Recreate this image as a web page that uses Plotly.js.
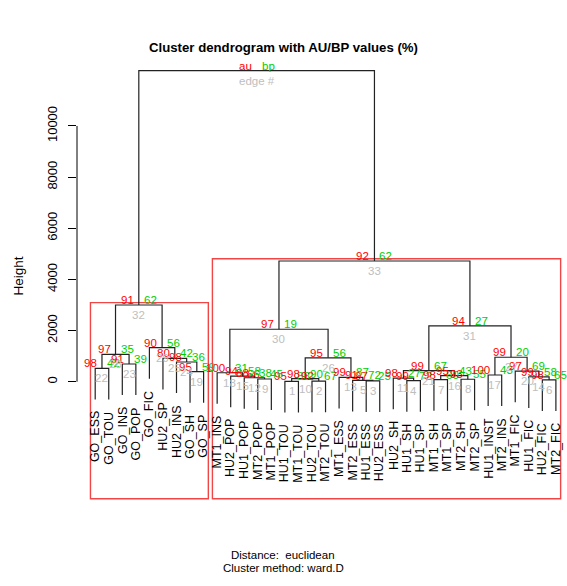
<!DOCTYPE html>
<html><head><meta charset="utf-8">
<script src="https://cdn.plot.ly/plotly-3.0.1.min.js"></script>
<style>body{margin:0;padding:0;background:#fff}#chart{width:567px;height:586px}</style>
</head><body><div id="chart"></div>
<script>
// ---- data (hclust-style merge table, leaves in display order, 1-based; negative = leaf) ----
const leafLabels = ["GO_ESS","GO_TOU","GO_INS","GO_POP","GO_FIC","HU2_SP","HU2_INS","GO_SH","GO_SP",
  "MT1_INS","HU2_POP","HU1_POP","MT2_POP","MT1_POP","HU1_TOU","MT1_TOU","HU2_TOU","MT2_TOU",
  "MT1_ESS","MT2_ESS","HU1_ESS","HU2_ESS","HU2_SH","HU1_SH","HU1_SP","MT1_SH","MT1_SP","MT2_SH","MT2_SP",
  "HU1_INST","MT2_INS","MT1_FIC","HU1_FIC","HU2_FIC","MT2_FIC"];
const mergeLeft  = [-15,-17,-21,-24,-20,-34,-26,-28,-13, 1,-23,-12,-19,-33,-11, 7,-30,-10, -8,-32,11, -1, -3, -7, -6,10,17,22, -5,18,21,28,30,32];
const mergeRight = [-16,-18,-22,-25,  3,-35,-27,-29,-14, 2,  4,  9,  5,  6, 12, 8,-31, 15, -9, 14,16, -2, -4, 19, 24,13,20,23, 25,26,27,29,31,33];
const heights = [15,25,35,45,55,70,80,95,105,120,140,155,170,190,215,235,262,350,395,410,430,524,692,770,915,935,955,1071,1333,2050,2180,3000,4720,12160];
const auValues = [95,92,97,99,91,98,98,93,66,98,98,88,99,99,94,95,100,100,95,97,99,98,91,98,80,95,99,97,90,97,94,91,92,"au"];
const bpValues = [88,67,25,72,72,65,60,55,45,90,27,38,87,58,58,43,43,31,59,69,67,42,39,36,42,56,20,35,56,19,27,62,62,"bp"];
const rectEdges = [33,32];
const yTicks = [0,2000,4000,6000,8000,10000];
const titleText = "Cluster dendrogram with AU/BP values (%)";
const subText1 = "Distance:  euclidean";
const subText2 = "Cluster method: ward.D";

// ---- geometry helpers ----
const nLeaf = leafLabels.length;
const maxH = Math.max(...heights);
const hang = 0.1 * maxH;
const nodeX = [];
const nodeMembers = [];
function childX(c){ return c < 0 ? -c : nodeX[c-1]; }
function childH(c, parentH){ return c < 0 ? parentH - hang : heights[c-1]; }
function childMem(c){ return c < 0 ? [-c] : nodeMembers[c-1]; }
const lx = [], ly = [];
const leafBottom = new Array(nLeaf + 1);
for (let i = 0; i < heights.length; i++) {
  const a = mergeLeft[i], b = mergeRight[i], h = heights[i];
  const xa = childX(a), xb = childX(b);
  nodeX.push((xa + xb) / 2);
  nodeMembers.push(childMem(a).concat(childMem(b)));
  lx.push(xa, xa, xb, xb, null);
  ly.push(childH(a, h), h, h, childH(b, h), null);
  if (a < 0) leafBottom[-a] = h - hang;
  if (b < 0) leafBottom[-b] = h - hang;
}

const AU = '#FF0000', BP = 'rgb(0,205,0)', ED = '#BEBEBE';
const FONT = 'Liberation Sans, Arial, sans-serif';
const ann = [];
for (let i = 0; i < heights.length; i++) {
  const x = nodeX[i], y = heights[i];
  ann.push({x, y, xref:'x', yref:'y', text:String(auValues[i]), showarrow:false, xanchor:'right', yanchor:'middle', xshift:-3, yshift:5, font:{family:FONT, size:11.5, color:AU}});
  ann.push({x, y, xref:'x', yref:'y', text:String(bpValues[i]), showarrow:false, xanchor:'left', yanchor:'middle', xshift:3, yshift:5, font:{family:FONT, size:11.5, color:BP}});
  const en = (i === heights.length - 1) ? 'edge #' : String(i + 1);
  ann.push({x, y, xref:'x', yref:'y', text:en, showarrow:false, xanchor:'center', yanchor:'top', yshift:-2, font:{family:FONT, size:11.5, color:ED}});
}
for (let k = 1; k <= nLeaf; k++) {
  ann.push({x:k, y:leafBottom[k], xref:'x', yref:'y', text:leafLabels[k-1], showarrow:false, textangle:-90,
    xanchor:'center', yanchor:'top', yshift:-10, font:{family:FONT, size:12.5, color:'#000'}});
}
// y axis title & sub-captions
ann.push({xref:'paper', yref:'paper', x:(17.5-77)/490, y:(502-276)/482, text:'Height', textangle:-90, showarrow:false, xanchor:'center', yanchor:'middle', font:{family:FONT, size:13.5, color:'#000'}});
ann.push({xref:'paper', yref:'paper', x:(283-77)/490, y:-(555-502)/482, text:subText1, showarrow:false, xanchor:'center', yanchor:'middle', font:{family:FONT, size:11.5, color:'#000'}});
ann.push({xref:'paper', yref:'paper', x:(283-77)/490, y:-(568-502)/482, text:subText2, showarrow:false, xanchor:'center', yanchor:'middle', font:{family:FONT, size:11.5, color:'#000'}});

// pvrect-style boxes
const mx = 0.35, my = 90, yb = -4665;
const shapes = rectEdges.map(e => {
  const m = nodeMembers[e-1];
  return {type:'rect', xref:'x', yref:'y', x0:Math.min(...m)-mx, x1:Math.max(...m)+mx, y0:yb+my, y1:heights[e-1]+my,
    line:{color:'rgb(240,70,70)', width:1.4}, fillcolor:'rgba(0,0,0,0)', layer:'below'};
});
shapes.push({type:'line', xref:'paper', yref:'y', x0:0, x1:0, y0:yTicks[0], y1:yTicks[yTicks.length-1], line:{color:'#000', width:1}});

const trace = {x:lx, y:ly, type:'scatter', mode:'lines', line:{color:'#222', width:1.2}, hoverinfo:'skip', showlegend:false};

const layout = {
  width:567, height:586, margin:{l:77, r:0, t:20, b:84},
  paper_bgcolor:'#fff', plot_bgcolor:'#fff', showlegend:false,
  title:{text:'<b>'+titleText+'</b>', xref:'container', yref:'container', x:0.5, y:1-47/586, xanchor:'center', yanchor:'middle', font:{family:FONT, size:13.2, color:'#000'}},
  xaxis:{range:[-0.343, 35.82], visible:false, fixedrange:true},
  yaxis:{range:[-4704, 14143], tickvals:yTicks, ticktext:yTicks.map(String), ticks:'outside', ticklen:8, tickcolor:'#000', tickwidth:1,
    showline:false, zeroline:false, showgrid:false, tickangle:-90, ticklabelstandoff:6, tickfont:{family:FONT, size:13, color:'#000'}, fixedrange:true},
  shapes:shapes, annotations:ann
};
Plotly.newPlot('chart', [trace], layout, {staticPlot:true, displayModeBar:false});
</script></body></html>
